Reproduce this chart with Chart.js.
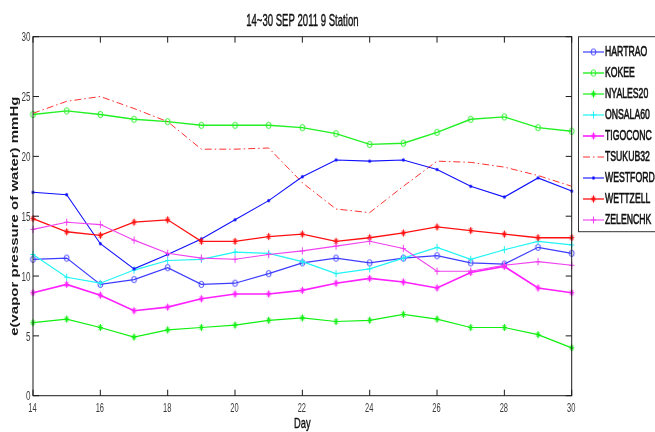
<!DOCTYPE html>
<html>
<head>
<meta charset="utf-8">
<script src="https://cdn.jsdelivr.net/npm/chart.js@4/dist/chart.umd.min.js"></script>
<style>
  html, body { margin: 0; padding: 0; background: #fff; }
  #wrap { width: 655px; height: 432px; }
</style>
</head>
<body>
<div id="wrap"><canvas id="c" width="655" height="432"></canvas></div>
<script>
// Daily water vapour pressure (mmHg), 14-30 September 2011, nine VLBI stations
const days = [14, 15, 16, 17, 18, 19, 20, 21, 22, 23, 24, 25, 26, 27, 28, 29, 30];
const hartrao  = [11.4, 11.5, 9.3, 9.7, 10.7, 9.3, 9.4, 10.2, 11.1, 11.5, 11.1, 11.5, 11.7, 11.1, 11.0, 12.4, 11.9];
const kokee    = [23.5, 23.8, 23.5, 23.1, 22.9, 22.6, 22.6, 22.6, 22.4, 21.9, 21.0, 21.1, 22.0, 23.1, 23.3, 22.4, 22.1];
const nyales20 = [6.1, 6.4, 5.7, 4.9, 5.5, 5.7, 5.9, 6.3, 6.5, 6.2, 6.3, 6.8, 6.4, 5.7, 5.7, 5.1, 4.0];
const onsala60 = [11.8, 9.9, 9.4, 10.5, 11.3, 11.4, 12.0, 11.9, 11.2, 10.2, 10.6, 11.5, 12.4, 11.4, 12.2, 12.9, 12.6];
const tigoconc = [8.6, 9.3, 8.4, 7.1, 7.4, 8.1, 8.5, 8.5, 8.8, 9.4, 9.8, 9.5, 9.0, 10.3, 10.8, 9.0, 8.6];
const tsukub32 = [23.6, 24.6, 25.0, 24.0, 22.9, 20.6, 20.6, 20.7, 17.8, 15.6, 15.3, 17.5, 19.6, 19.5, 19.1, 18.4, 17.5];
const westford = [17.0, 16.8, 12.7, 10.6, 11.8, 13.1, 14.7, 16.3, 18.3, 19.7, 19.6, 19.7, 18.9, 17.5, 16.6, 18.2, 17.1];
const wettzell = [14.8, 13.7, 13.4, 14.5, 14.7, 12.9, 12.9, 13.3, 13.5, 12.9, 13.2, 13.6, 14.1, 13.8, 13.5, 13.2, 13.2];
const zelenchk = [13.9, 14.5, 14.3, 13.0, 11.9, 11.5, 11.4, 11.8, 12.1, 12.5, 12.9, 12.3, 10.4, 10.4, 10.9, 11.2, 10.9];

const titleText = '14~30 SEP 2011 9 Station';
const xTitle = 'Day';
const yTitle = 'e(vapor pressure of water) mmHg';

// Narrow marker glyphs (ellipse, plus, star, dot) rendered to small canvases
function marker(kind, color) {
  const c = document.createElement('canvas');
  c.width = 11; c.height = 11;
  const g = c.getContext('2d');
  const cx = 5.5, cy = 5.5;
  g.strokeStyle = color; g.fillStyle = color; g.lineWidth = 1;
  g.beginPath();
  if (kind === 'o') {
    g.ellipse(cx, cy, 2.4, 3.1, 0, 0, Math.PI * 2);
    g.stroke();
  } else if (kind === '+') {
    g.moveTo(cx - 2.6, cy); g.lineTo(cx + 2.6, cy);
    g.moveTo(cx, cy - 3.6); g.lineTo(cx, cy + 3.6);
    g.stroke();
  } else if (kind === '*') {
    g.moveTo(cx - 2.6, cy); g.lineTo(cx + 2.6, cy);
    g.moveTo(cx, cy - 3.6); g.lineTo(cx, cy + 3.6);
    g.moveTo(cx - 1.7, cy - 2.4); g.lineTo(cx + 1.7, cy + 2.4);
    g.moveTo(cx + 1.7, cy - 2.4); g.lineTo(cx - 1.7, cy + 2.4);
    g.stroke();
  } else if (kind === '.') {
    g.ellipse(cx, cy, 1.4, 1.8, 0, 0, Math.PI * 2);
    g.fill();
  }
  return c;
}

const seriesDefs = [
  { label: 'HARTRAO',  values: hartrao,  color: '#3c3cff', mk: 'o', width: 1.2 },
  { label: 'KOKEE',    values: kokee,    color: '#22f022', mk: 'o', width: 1.4 },
  { label: 'NYALES20', values: nyales20, color: '#10f010', mk: '*', width: 1.2 },
  { label: 'ONSALA60', values: onsala60, color: '#20f4f4', mk: '+', width: 1.2 },
  { label: 'TIGOCONC', values: tigoconc, color: '#ff20ff', mk: '*', width: 1.6 },
  { label: 'TSUKUB32', values: tsukub32, color: '#ff3030', mk: null, width: 1.0, dash: [7, 3, 1.5, 3] },
  { label: 'WESTFORD', values: westford, color: '#1010ff', mk: '.', width: 1.1 },
  { label: 'WETTZELL', values: wettzell, color: '#ff1010', mk: '*', width: 1.3 },
  { label: 'ZELENCHK', values: zelenchk, color: '#f040f0', mk: '+', width: 1.1 }
];

const datasets = seriesDefs.map((s, i) => ({
  label: s.label,
  data: s.values.map((v, k) => ({ x: days[k], y: v })),
  borderColor: s.color,
  backgroundColor: s.color,
  borderWidth: s.width,
  borderDash: s.dash || [],
  pointStyle: s.mk ? marker(s.mk, s.color) : false,
  pointRadius: s.mk ? 3 : 0,
  tension: 0,
  fill: false,
  clip: false,
  order: seriesDefs.length - i
}));

// Draw text squeezed horizontally (condensed look); optional stroke to thicken
function squeezed(ctx, text, x, y, align, sx, heavy) {
  ctx.save();
  ctx.translate(x, y);
  ctx.scale(sx, 1);
  ctx.textAlign = align;
  ctx.fillText(text, 0, 0);
  if (heavy) {
    ctx.strokeStyle = ctx.fillStyle;
    ctx.lineWidth = heavy;
    ctx.strokeText(text, 0, 0);
  }
  ctx.restore();
}

const frame = {
  id: 'frame',
  afterDraw(chart) {
    const ctx = chart.ctx;
    const a = chart.chartArea;
    const xs = chart.scales.x, ys = chart.scales.y;
    const tick = 6;

    ctx.save();
    // axes box
    ctx.strokeStyle = '#1a1a1a';
    ctx.lineWidth = 1;
    ctx.strokeRect(a.left, a.top, a.right - a.left, a.bottom - a.top);

    // inward tick marks + labels
    ctx.fillStyle = '#3a3a3a';
    ctx.font = '12.5px "Liberation Sans", Arial, sans-serif';
    ctx.textBaseline = 'alphabetic';
    ctx.beginPath();
    xs.ticks.forEach(t => {
      const px = xs.getPixelForValue(t.value);
      ctx.moveTo(px, a.bottom); ctx.lineTo(px, a.bottom - tick);
      ctx.moveTo(px, a.top); ctx.lineTo(px, a.top + tick);
    });
    ys.ticks.forEach(t => {
      const py = ys.getPixelForValue(t.value);
      ctx.moveTo(a.left, py); ctx.lineTo(a.left + tick, py);
      ctx.moveTo(a.right, py); ctx.lineTo(a.right - tick, py);
    });
    ctx.stroke();
    xs.ticks.forEach(t => {
      const px = xs.getPixelForValue(t.value);
      squeezed(ctx, String(t.value), px - 0.5, a.bottom + 16, 'center', 0.6);
    });
    ctx.font = '13px "Liberation Sans", Arial, sans-serif';
    ys.ticks.forEach(t => {
      const py = ys.getPixelForValue(t.value);
      squeezed(ctx, String(t.value), a.left - 2.5, py + 4.7, 'right', 0.62);
    });

    // title and axis titles
    ctx.fillStyle = '#111';
    ctx.font = '16.5px "Liberation Sans", Arial, sans-serif';
    squeezed(ctx, titleText, (a.left + a.right) / 2, 26, 'center', 0.58, 0.4);
    ctx.font = '15px "Liberation Sans", Arial, sans-serif';
    squeezed(ctx, xTitle, (a.left + a.right) / 2, 428, 'center', 0.62, 0.4);

    ctx.save();
    ctx.translate(15.5, (a.top + a.bottom) / 2);
    ctx.rotate(-Math.PI / 2);
    ctx.scale(1, 0.68);
    ctx.font = 'bold 15px "Liberation Sans", Arial, sans-serif';
    ctx.textAlign = 'center';
    ctx.textBaseline = 'middle';
    ctx.fillStyle = '#1a1a1a';
    ctx.fillText(yTitle, 0, 0);
    ctx.restore();

    // legend box
    const lx = 578.5, ly = a.top, lh = 195;
    ctx.fillStyle = '#fff';
    ctx.fillRect(lx, ly, 100, lh);
    ctx.strokeStyle = '#333';
    ctx.lineWidth = 1;
    ctx.strokeRect(lx, ly, 100, lh);
    ctx.font = '14px "Liberation Sans", Arial, sans-serif';
    chart.data.datasets.forEach((ds, i) => {
      const y = 52 + 21 * i;
      ctx.save();
      ctx.strokeStyle = ds.borderColor;
      ctx.lineWidth = ds.borderWidth;
      ctx.setLineDash(ds.borderDash || []);
      ctx.beginPath();
      ctx.moveTo(583, y); ctx.lineTo(604, y);
      ctx.stroke();
      ctx.restore();
      if (ds.pointStyle) {
        ctx.drawImage(ds.pointStyle, 593.5 - ds.pointStyle.width / 2, y - ds.pointStyle.height / 2);
      }
      ctx.fillStyle = '#111';
      ctx.textBaseline = 'middle';
      squeezed(ctx, ds.label, 605, y + 0.5, 'left', 0.62, 0.6);
    });
    ctx.restore();
  }
};

new Chart(document.getElementById('c'), {
  type: 'line',
  data: { datasets },
  options: {
    responsive: false,
    animation: false,
    events: [],
    layout: { padding: { left: 0, top: 36.7, right: 83.3, bottom: 0 } },
    plugins: { legend: { display: false }, title: { display: false }, tooltip: { enabled: false } },
    scales: {
      x: {
        type: 'linear', min: 14, max: 30,
        ticks: { display: false, stepSize: 2 },
        grid: { display: false, drawTicks: false },
        border: { display: false },
        afterFit(s) { s.height = 36.3; }
      },
      y: {
        type: 'linear', min: 0, max: 30,
        ticks: { display: false, stepSize: 5 },
        grid: { display: false, drawTicks: false },
        border: { display: false },
        afterFit(s) { s.width = 33; }
      }
    }
  },
  plugins: [frame]
});
</script>
</body>
</html>
